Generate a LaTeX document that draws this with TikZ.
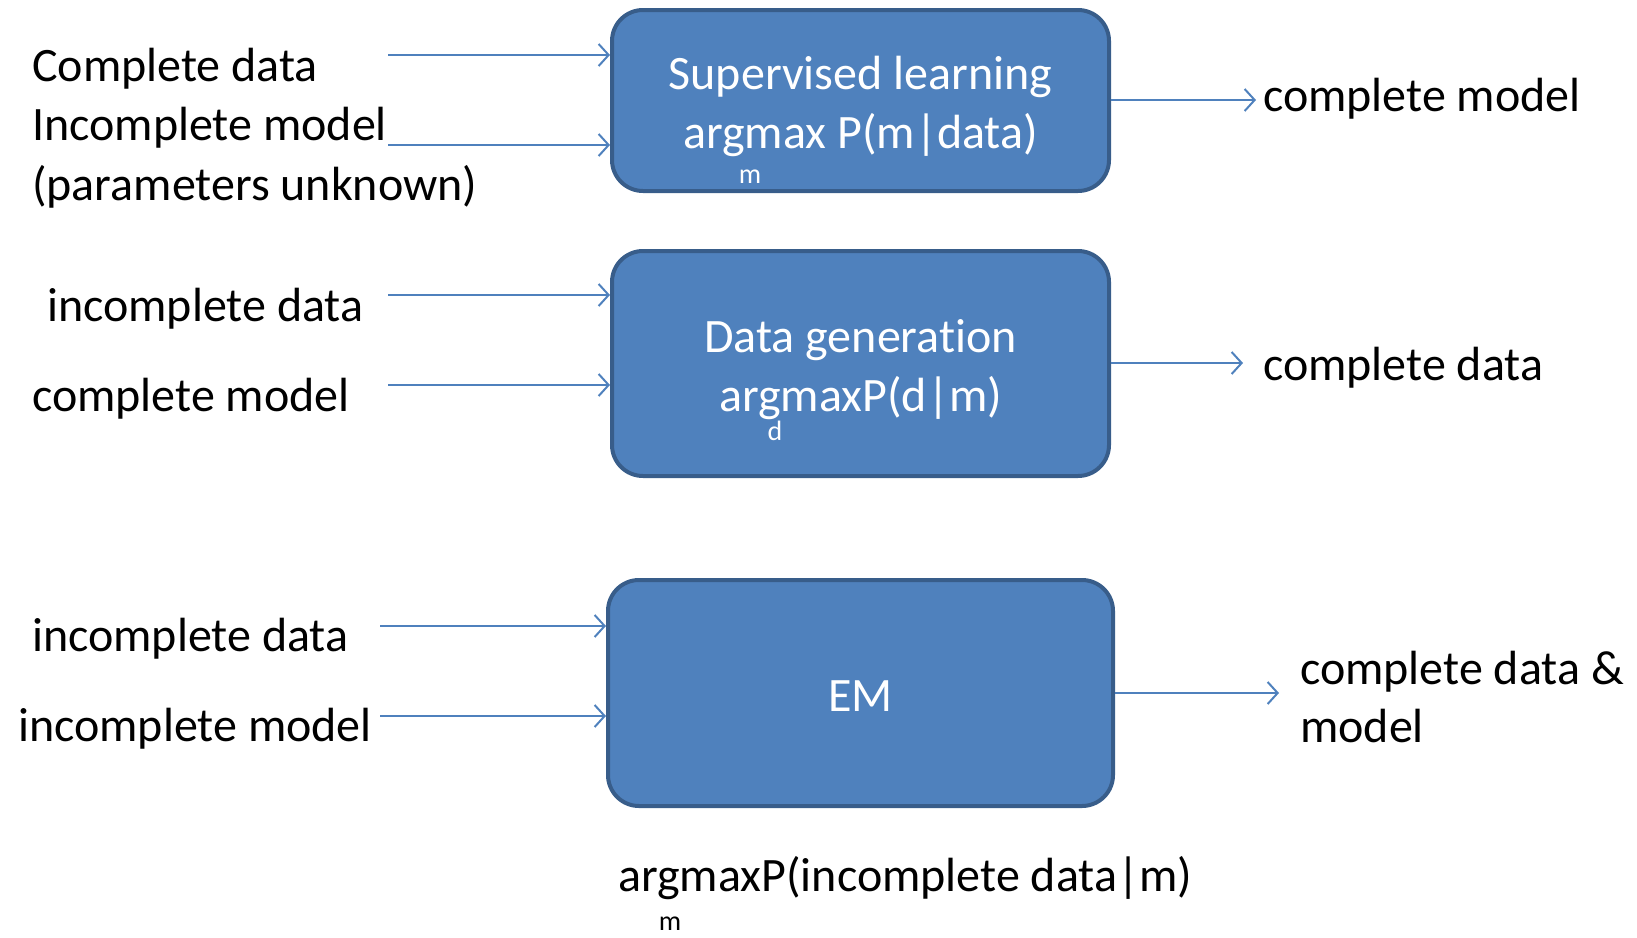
\documentclass[tikz,border=0pt]{standalone}
\usepackage{fontspec}
\setmainfont{Carlito}[RawFeature={-liga}]
\usetikzlibrary{arrows.meta}
\definecolor{boxfill}{HTML}{4F81BD}
\definecolor{boxline}{HTML}{385D8A}
\begin{document}
\begin{tikzpicture}[x=1pt,y=-1pt,
  box/.style={draw=boxline, line width=4pt, fill=boxfill, rounded corners=31pt},
  boxtext/.style={text=white, align=center, inner sep=0pt, font=\fontsize{48}{59}\selectfont},
  lbl/.style={anchor=west, inner sep=0pt, font=\fontsize{48}{58}\selectfont, align=left},
  sub/.style={inner sep=0pt, font=\fontsize{28}{32}\selectfont},
  conn/.style={draw=boxfill, line width=2pt, -{Straight Barb[length=10pt,width=22pt,line width=2pt]}}]
\useasboundingbox (0,0) rectangle (1637,937);

% boxes
\node[box, minimum width=497pt, minimum height=181pt] (b1) at (860.5,100.5) {};
\node[boxtext] (t1) at (860.5,106) {Supervised learning\\argmax P(m|data)};
\node[sub, text=white] (s1) at (750,177) {m};
\node[box, minimum width=497pt, minimum height=225pt] (b2) at (860.5,363.5) {};
\node[boxtext] (t2) at (860.5,369.5) {Data generation\\argmaxP(d|m)};
\node[sub, text=white] (s2) at (775,431) {d};
\node[box, minimum width=505pt, minimum height=226pt] (b3) at (860.5,693) {};
\node[boxtext] (t3) at (860.5,696) {EM};

% left labels
\node[lbl] (l1) at (32,69) {Complete data};
\node[lbl] (l2) at (32,128) {Incomplete model};
\node[lbl] (l3) at (32,187) {(parameters unknown)};
\node[lbl] (l4) at (47,309) {incomplete data};
\node[lbl] (l5) at (32,399) {complete model};
\node[lbl] (l6) at (32,639) {incomplete data};
\node[lbl] (l7) at (18,729) {incomplete model};

% right labels
\node[lbl] (r1) at (1263,99) {complete model};
\node[lbl] (r2) at (1263,368) {complete data};
\node[lbl] (r3) at (1300,697) {complete data \&\\model};

% bottom formula
\node[lbl] (f) at (618,878) {argmaxP(incomplete data|m)};
\node[sub] (fs) at (670,924) {m};

% arrow start coordinates
\coordinate (a1) at (388,55);
\coordinate (a2) at (388,145);
\coordinate (a3) at (388,295);
\coordinate (a4) at (388,385);
\coordinate (a5) at (380,626);
\coordinate (a6) at (380,716);
\coordinate (o1) at (1256,100);
\coordinate (o2) at (1243,363);
\coordinate (o3) at (1279,693);

\draw[conn] (a1) -- (b1.west |- a1);
\draw[conn] (a2) -- (b1.west |- a2);
\draw[conn] (a3) -- (b2.west |- a3);
\draw[conn] (a4) -- (b2.west |- a4);
\draw[conn] (a5) -- (b3.west |- a5);
\draw[conn] (a6) -- (b3.west |- a6);
\draw[conn] (b1.east |- o1) -- (o1);
\draw[conn] (b2.east |- o2) -- (o2);
\draw[conn] (b3.east |- o3) -- (o3);
\end{tikzpicture}
\end{document}
